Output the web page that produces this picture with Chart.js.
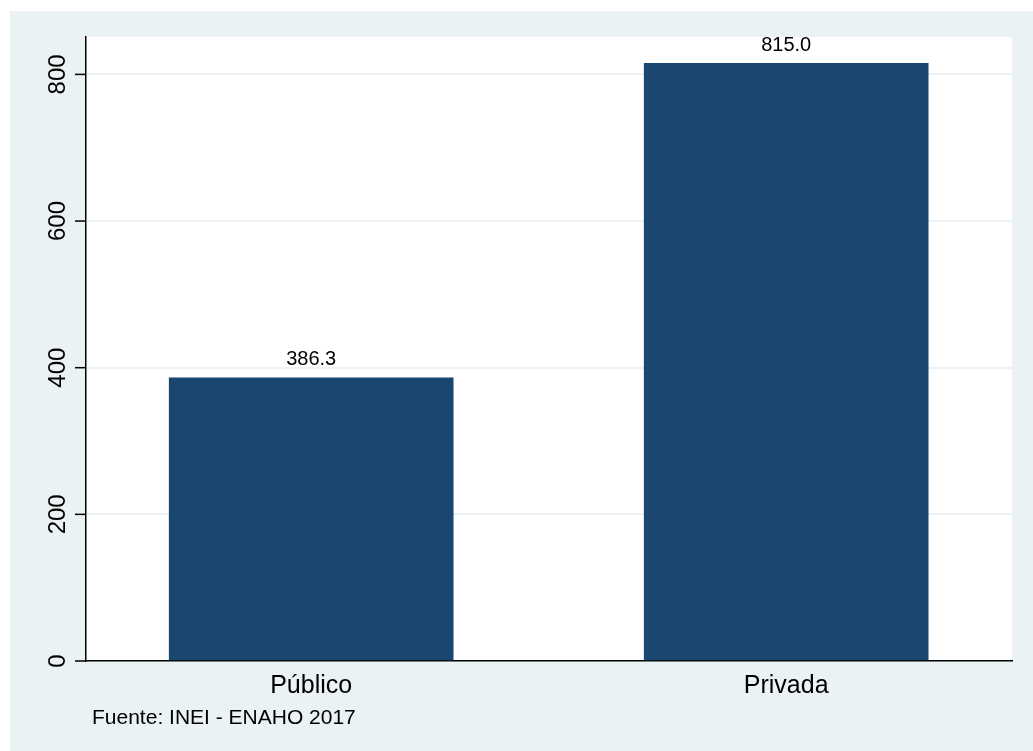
<!DOCTYPE html>
<html>
<head>
<meta charset="utf-8">
<script src="https://cdn.jsdelivr.net/npm/chart.js@4/dist/chart.umd.min.js"></script>
<style>
html,body{margin:0;padding:0;background:#ffffff;}
canvas{display:block;}
</style>
</head>
<body>
<canvas id="c" width="1033" height="751"></canvas>
<script>
const categories = ["Público", "Privada"];
const values = [386.3, 815.0];
const valueLabels = ["386.3", "815.0"];
const yTicks = [0, 200, 400, 600, 800];
const yTickLabels = ["0", "200", "400", "600", "800"];
const sourceNote = "Fuente: INEI - ENAHO 2017";

const FONT = "'Liberation Sans', Arial, Helvetica, sans-serif";
const BG = "#EAF2F3";
const BAR = "#1A476F";

const decorPlugin = {
  id: "decor",
  beforeDraw(chart) {
    const ctx = chart.ctx;
    const a = chart.chartArea;
    ctx.save();
    ctx.fillStyle = "#ffffff";
    ctx.fillRect(0, 0, chart.width, chart.height);
    ctx.fillStyle = BG;
    ctx.fillRect(10, 11, chart.width - 10, chart.height - 11);
    ctx.fillStyle = "#ffffff";
    ctx.fillRect(a.left, a.top, a.right - a.left, a.bottom - a.top);
    ctx.restore();
  },
  afterDraw(chart) {
    const ctx = chart.ctx;
    const a = chart.chartArea;
    const ys = chart.scales.y;
    ctx.save();
    ctx.strokeStyle = "#000";
    ctx.lineWidth = 1.5;
    ctx.fillStyle = "#000";
    ctx.font = "24px " + FONT;
    ctx.textAlign = "center";
    ctx.textBaseline = "alphabetic";
    yTicks.forEach((v, i) => {
      const py = ys.getPixelForValue(v);
      ctx.beginPath();
      ctx.moveTo(a.left - 11, py);
      ctx.lineTo(a.left, py);
      ctx.stroke();
      ctx.save();
      ctx.translate(a.left - 21, py);
      ctx.rotate(-Math.PI / 2);
      ctx.fillText(yTickLabels[i], 0, 0);
      ctx.restore();
    });
    const meta = chart.getDatasetMeta(0);
    ctx.font = "20px " + FONT;
    meta.data.forEach((bar, i) => {
      ctx.fillText(valueLabels[i], bar.x, bar.y - 12.5);
    });
    ctx.textAlign = "left";
    ctx.font = "21px " + FONT;
    ctx.fillText(sourceNote, 92, 724);
    ctx.restore();
  }
};

const positions = categories.map((c, i) => i + 1);

new Chart(document.getElementById("c"), {
  type: "bar",
  data: {
    datasets: [{
      data: positions.map((p, i) => ({ x: p, y: values[i] })),
      backgroundColor: BAR,
      borderWidth: 0,
      barThickness: 284
    }]
  },
  options: {
    responsive: false,
    animation: false,
    devicePixelRatio: 1,
    layout: { padding: { left: 86, top: 37, right: 21, bottom: 0 } },
    plugins: { legend: { display: false }, tooltip: { enabled: false } },
    scales: {
      x: {
        type: "linear",
        offset: false,
        min: 0.5259,
        max: 2.4754,
        grid: { display: false, drawTicks: false, offset: false },
        border: { display: true, color: "#000", width: 1.5 },
        afterBuildTicks(scale) { scale.ticks = positions.map(p => ({ value: p })); },
        afterFit(scale) { scale.height = 90; },
        ticks: {
          autoSkip: false,
          maxRotation: 0,
          padding: 10,
          color: "#000",
          font: { family: FONT, size: 25 },
          callback(v) { const i = positions.indexOf(v); return i >= 0 ? categories[i] : ""; }
        }
      },
      y: {
        min: 0,
        max: 851,
        afterBuildTicks(scale) { scale.ticks = yTicks.map(v => ({ value: v })); },
        afterFit(scale) { scale.width = 0; },
        grid: { color: BG, lineWidth: 2, drawTicks: false },
        border: { display: true, color: "#000", width: 1.5 },
        ticks: { display: false }
      }
    }
  },
  plugins: [decorPlugin]
});
</script>
</body>
</html>
